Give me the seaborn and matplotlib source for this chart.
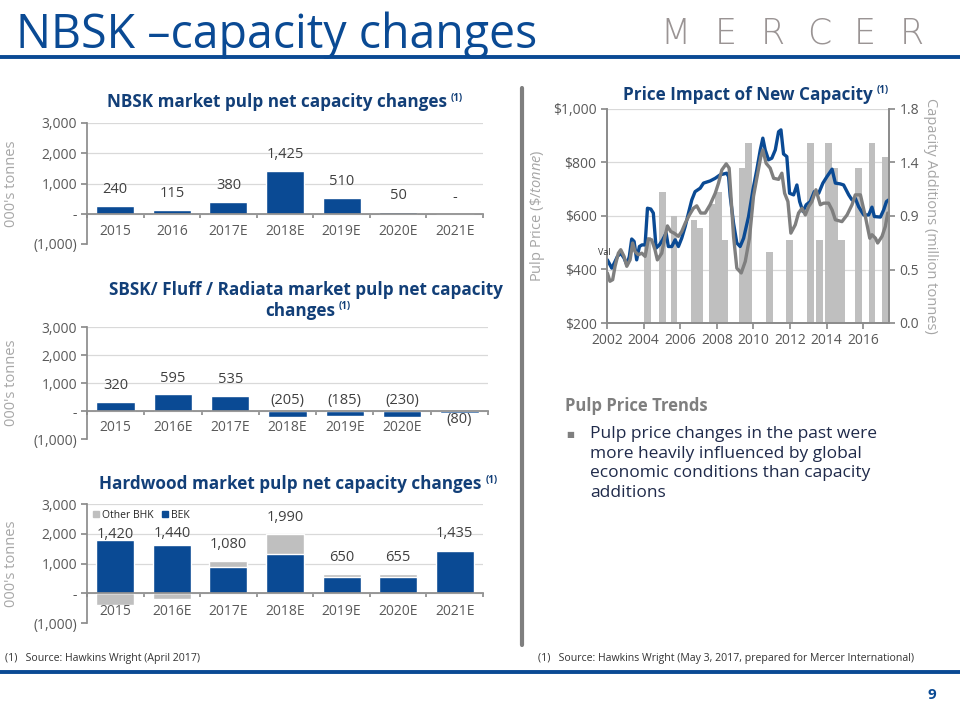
import matplotlib
matplotlib.use("Agg")
import matplotlib.pyplot as plt
import matplotlib.ticker as mticker
from matplotlib.patches import Patch
import seaborn as sns

sns.set_theme(style="white")
plt.rcParams["font.family"] = ["Open Sans", "DejaVu Sans"]
plt.rcParams["mathtext.fontset"] = "custom"
plt.rcParams["mathtext.rm"] = "Open Sans"
plt.rcParams["mathtext.it"] = "Open Sans:italic"

BLUE = "#0A4A94"
NAVY = "#123F78"
GRAY_BAR = "#BFBFBF"
TICK = "#595959"
AXLABEL = "#A6A6A6"
AXIS = "#8C8C8C"
GRID = "#D9D9D9"

# ---- data ----
nbsk_years = ["2015", "2016", "2017E", "2018E", "2019E", "2020E", "2021E"]
nbsk_change = [240, 115, 380, 1425, 510, 50, 0]

sbsk_years = ["2015", "2016E", "2017E", "2018E", "2019E", "2020E", "2021E"]
sbsk_change = [320, 595, 535, -205, -185, -230, -80]

hw_years = ["2015", "2016E", "2017E", "2018E", "2019E", "2020E", "2021E"]
hw_bek = [1800, 1620, 870, 1310, 550, 560, 1435]
hw_other = [-380, -180, 210, 680, 100, 95, 0]

blue_t = [2002.02, 2002.26, 2002.44, 2002.57, 2002.75, 2002.93, 2003.08, 2003.22, 2003.35, 2003.48,
          2003.62, 2003.77, 2003.91, 2004.08, 2004.21, 2004.39, 2004.53, 2004.68, 2004.86, 2005.04,
          2005.23, 2005.35, 2005.54, 2005.72, 2005.90, 2006.08, 2006.27, 2006.45, 2006.63, 2006.81,
          2007.09, 2007.27, 2007.63, 2007.91, 2008.18, 2008.54, 2008.64, 2008.73, 2008.91, 2009.09,
          2009.27, 2009.46, 2009.73, 2009.97, 2010.18, 2010.37, 2010.51, 2010.64, 2010.82, 2011.00,
          2011.19, 2011.37, 2011.50, 2011.64, 2011.82, 2011.97, 2012.19, 2012.37, 2012.52, 2012.70,
          2012.88, 2013.10, 2013.32, 2013.56, 2013.79, 2014.01, 2014.29, 2014.47, 2014.74, 2014.92,
          2015.20, 2015.38, 2015.56, 2015.74, 2016.02, 2016.29, 2016.47, 2016.60, 2016.93, 2017.11,
          2017.26, 2017.38]
blue_price = [436, 405, 430, 449, 461, 443, 418, 449, 514, 505,
              436, 486, 492, 492, 629, 626, 611, 480, 492, 511,
              536, 486, 486, 511, 486, 517, 561, 611, 660, 691,
              704, 723, 731, 741, 754, 760, 747, 673, 573, 499,
              486, 517, 598, 698, 772, 847, 891, 847, 810, 816,
              847, 915, 922, 832, 822, 685, 679, 716, 654, 617,
              642, 654, 691, 685, 723, 747, 775, 723, 720, 716,
              679, 660, 666, 635, 604, 604, 633, 598, 596, 623,
              654, 660]

gray_t = [2002.02, 2002.16, 2002.31, 2002.44, 2002.62, 2002.75, 2002.93, 2003.08, 2003.26, 2003.40,
          2003.53, 2003.71, 2003.90, 2004.08, 2004.26, 2004.44, 2004.62, 2004.75, 2004.99, 2005.17,
          2005.30, 2005.48, 2005.66, 2005.90, 2006.08, 2006.27, 2006.50, 2006.72, 2006.90, 2007.12,
          2007.36, 2007.63, 2007.91, 2008.09, 2008.27, 2008.51, 2008.67, 2008.76, 2008.91, 2009.09,
          2009.33, 2009.55, 2009.78, 2010.00, 2010.18, 2010.40, 2010.51, 2010.69, 2010.91, 2011.10,
          2011.37, 2011.55, 2011.70, 2011.88, 2012.04, 2012.28, 2012.46, 2012.65, 2012.83, 2013.01,
          2013.19, 2013.41, 2013.65, 2013.83, 2014.10, 2014.29, 2014.47, 2014.83, 2015.11, 2015.38,
          2015.56, 2015.84, 2016.11, 2016.35, 2016.47, 2016.66, 2016.78, 2017.02, 2017.20, 2017.33]
gray_price = [387, 356, 362, 412, 461, 474, 449, 412, 436, 499,
              467, 455, 461, 449, 514, 511, 474, 436, 461, 524,
              563, 542, 536, 524, 542, 573, 604, 629, 638, 611,
              611, 642, 685, 723, 772, 795, 779, 685, 524, 405,
              387, 430, 517, 673, 741, 822, 847, 797, 779, 741,
              737, 760, 685, 654, 536, 567, 611, 629, 604, 635,
              654, 698, 642, 648, 648, 623, 586, 579, 604, 642,
              679, 679, 598, 517, 530, 517, 499, 524, 561, 611]

cap_start = [2004.04, 2004.86, 2005.48, 2006.57, 2006.90, 2007.56, 2007.90, 2008.27, 2009.20, 2009.56,
             2010.68, 2011.80, 2012.92, 2013.43, 2013.92, 2014.28, 2014.64, 2015.56, 2016.29, 2017.02]
cap_add = [0.72, 1.10, 0.90, 0.87, 0.80, 1.00, 1.10, 0.70, 1.30, 1.51,
           0.60, 0.70, 1.51, 0.70, 1.51, 1.30, 0.70, 1.30, 1.51, 1.40]

price_ticks = [200, 400, 600, 800, 1000]
cap_ticks = [0.0, 0.45, 0.9, 1.35, 1.8]
cap_tick_labels = ["0.0", "0.5", "0.9", "1.4", "1.8"]
year_ticks = [2002, 2004, 2006, 2008, 2010, 2012, 2014, 2016]

W, H = 960, 720
fig = plt.figure(figsize=(9.6, 7.2), dpi=100)


def box(x0, y0, x1, y1):
    return [x0 / W, 1 - y1 / H, (x1 - x0) / W, (y1 - y0) / H]


def fmt_k(v):
    if v == 0:
        return "-"
    if v < 0:
        return f"({-v:,.0f})"
    return f"{v:,.0f}"


def style_panel(ax, cats, show_cats=None):
    ax.set_xlim(-0.5, 6.5)
    ax.set_ylim(-1000, 3000)
    ax.set_yticks([-1000, 0, 1000, 2000, 3000])
    ax.yaxis.set_major_formatter(mticker.FuncFormatter(lambda v, p: fmt_k(v)))
    ax.set_xticks([i - 0.5 for i in range(8)])
    ax.set_xticklabels([])
    ax.yaxis.grid(True, color=GRID, lw=0.9)
    ax.xaxis.grid(False)
    ax.get_ygridlines()[0].set_visible(False)
    ax.set_axisbelow(True)
    for s in ["top", "right"]:
        ax.spines[s].set_visible(False)
    ax.spines["bottom"].set_position(("data", 0))
    ax.spines["bottom"].set_color(AXIS)
    ax.spines["left"].set_color(AXIS)
    ax.tick_params(axis="y", left=True, length=4, color=AXIS, labelsize=10, labelcolor=TICK, pad=3)
    ax.tick_params(axis="x", bottom=True, length=3, color=AXIS)
    ax.set_xlabel("")
    ax.set_ylabel("")
    for i, c in enumerate(cats):
        if show_cats is None or show_cats[i]:
            ax.text(i, -600, c, ha="center", va="center", fontsize=10, color=TICK)


def ylab(ax_box_y0, ax_box_y1):
    fig.text(12 / W, 1 - (ax_box_y0 + ax_box_y1) / 2 / H, "000's tonnes", rotation=90,
             ha="center", va="center", fontsize=10.5, color=AXLABEL)


renderer = fig.canvas.get_renderer()


def title_sup(xc, yc, txt, size=12.3):
    t = fig.text(xc / W, 1 - yc / H, txt, ha="center", va="center", fontsize=size,
                 fontweight="bold", color=NAVY)
    bb = t.get_window_extent(renderer)
    fig.text((bb.x1 + 4) / W, 1 - (yc - 4) / H, "(1)", ha="left", va="center", fontsize=7,
             fontweight="bold", color=NAVY)


# ---- header ----
fig.text(16 / W, 1 - 48 / H, "NBSK \u2013capacity changes", fontsize=33.5, color=BLUE,
         ha="left", va="baseline")
fig.add_artist(plt.Line2D([0, 1], [1 - 57 / H, 1 - 57 / H], color=BLUE, lw=2.8,
                          transform=fig.transFigure))
for x, ch in zip([675, 726, 773, 819, 865, 912], "MERCER"):
    fig.text(x / W, 1 - 34 / H, ch, fontsize=25, fontweight="light", color="#9A9494",
             family=["DejaVu Sans"], ha="center", va="center")

# ---- chart 1: NBSK ----
ax1 = fig.add_axes(box(87, 123, 483, 244))
sns.barplot(x=nbsk_years, y=nbsk_change, color=BLUE, width=0.67, saturation=1, ax=ax1)
style_panel(ax1, nbsk_years)
for i, v in enumerate(nbsk_change):
    ax1.text(i, v + 550, fmt_k(v), ha="center", va="center", fontsize=10.5, color="#404040")
ylab(123, 244)
title_sup(277, 102, "NBSK market pulp net capacity changes")

# ---- chart 2: SBSK ----
ax2 = fig.add_axes(box(87, 327, 488, 439))
sns.barplot(x=sbsk_years, y=sbsk_change, color=BLUE, width=0.67, saturation=1, ax=ax2)
style_panel(ax2, sbsk_years, show_cats=[True] * 6 + [False])
for i, v in enumerate(sbsk_change):
    if v >= 0:
        ly = v + 580
    elif v < -150:
        ly = 390
    else:
        ly = v - 220
    ax2.text(i, ly, fmt_k(v), ha="center", va="center", fontsize=10.5, color="#404040")
ylab(327, 439)
fig.text(306 / W, 1 - 290 / H, "SBSK/ Fluff / Radiata market pulp net capacity", ha="center",
         va="center", fontsize=12.3, fontweight="bold", color=NAVY)
title_sup(300, 311, "changes")

# ---- chart 3: Hardwood ----
ax3 = fig.add_axes(box(87, 504, 483, 623))
hw_total = [b + o for b, o in zip(hw_bek, hw_other)]
gray_top = [b + o if o > 0 else o for b, o in zip(hw_bek, hw_other)]
sns.barplot(x=hw_years, y=gray_top, color=GRAY_BAR, width=0.67, saturation=1, ax=ax3)
sns.barplot(x=hw_years, y=hw_bek, color=BLUE, width=0.67, saturation=1, ax=ax3)
style_panel(ax3, hw_years)
for i, v in enumerate(hw_total):
    ax3.text(i, max(v, 0) + 560, fmt_k(v), ha="center", va="center", fontsize=10.5, color="#404040")
ax3.legend(handles=[Patch(color=GRAY_BAR, label="Other BHK"), Patch(color=BLUE, label="BEK")],
           loc="upper left", ncol=2, frameon=False, fontsize=7.5, handlelength=0.6,
           handleheight=0.6, handletextpad=0.3, columnspacing=0.8, borderaxespad=0.15,
           bbox_to_anchor=(0.0, 1.0))
ylab(504, 623)
title_sup(290, 484, "Hardwood market pulp net capacity changes")

# ---- separator ----
fig.add_artist(plt.Line2D([522 / W, 522 / W], [1 - 88 / H, 1 - 645 / H], color="#7F7F7F", lw=3,
                          transform=fig.transFigure))

# ---- price chart ----
ax4 = fig.add_axes(box(607, 109, 889, 323))
ax4b = ax4.twinx()
ax4b.bar(cap_start, cap_add, width=0.36, align="edge", color=GRAY_BAR, linewidth=0)
sns.lineplot(x=blue_t, y=blue_price, color=BLUE, lw=2.4, ax=ax4)
sns.lineplot(x=gray_t, y=gray_price, color="#7F7F7F", lw=2.4, ax=ax4)
ax4.set_zorder(ax4b.get_zorder() + 1)
ax4.patch.set_visible(False)
ax4.set_xlim(2002, 2017.4)
ax4.set_ylim(200, 1000)
ax4b.set_ylim(0, 1.8)
ax4.set_yticks(price_ticks)
ax4.yaxis.set_major_formatter(mticker.FuncFormatter(lambda v, p: f"${v:,.0f}"))
ax4b.set_yticks(cap_ticks)
ax4b.set_yticklabels(cap_tick_labels)
ax4.set_xticks(year_ticks)
ax4.set_xticklabels([str(y) for y in year_ticks])
ax4.grid(False)
ax4b.grid(True, axis="both", color=GRID, lw=0.9)
ax4b.set_axisbelow(True)
for a in (ax4, ax4b):
    for s in a.spines.values():
        s.set_color(AXIS)
    a.spines["top"].set_visible(False)
ax4.tick_params(axis="both", labelsize=10, labelcolor=TICK, length=4, color=AXIS, left=True, bottom=True)
ax4b.tick_params(axis="y", labelsize=10, labelcolor=TICK, length=4, color=AXIS, right=True)
ax4.set_xlabel("")
ax4.set_ylabel(r"Pulp Price ($\mathit{\$/tonne}$)", fontsize=10.5, color=AXLABEL, labelpad=4)
ax4b.set_ylabel("Capacity Additions (million tonnes)", fontsize=10.5, color=AXLABEL,
                rotation=270, labelpad=14)
ax4.text(2001.5, 462, "Val", fontsize=6.5, color="#333333", ha="left", va="center")
title_sup(748, 95, "Price Impact of New Capacity")

# ---- text block ----
fig.text(565 / W, 1 - 406 / H, "Pulp Price Trends", fontsize=12, fontweight="bold",
         color="#7F7F7F", ha="left", va="center")
fig.text(566 / W, 1 - 436 / H, "\u25A0", fontsize=6, color="#7F7F7F", ha="left", va="center")
fig.text(590 / W, 1 - 426 / H,
         "Pulp price changes in the past were\nmore heavily influenced by global\n"
         "economic conditions than capacity\nadditions",
         fontsize=12.5, color="#1F2A4A", ha="left", va="top", linespacing=1.3)

# ---- footer ----
fig.text(5 / W, 1 - 658 / H, "(1)   Source: Hawkins Wright (April 2017)", fontsize=7.6,
         color="#333333", ha="left", va="center")
fig.text(538 / W, 1 - 658 / H,
         "(1)   Source: Hawkins Wright (May 3, 2017, prepared for Mercer International)",
         fontsize=7.6, color="#333333", ha="left", va="center")
fig.add_artist(plt.Line2D([0, 1], [1 - 672 / H, 1 - 672 / H], color=BLUE, lw=2.8,
                          transform=fig.transFigure))
fig.text(932 / W, 1 - 695 / H, "9", fontsize=11, fontweight="bold", color=BLUE,
         ha="center", va="center")

fig.savefig("out.png", dpi=100)
